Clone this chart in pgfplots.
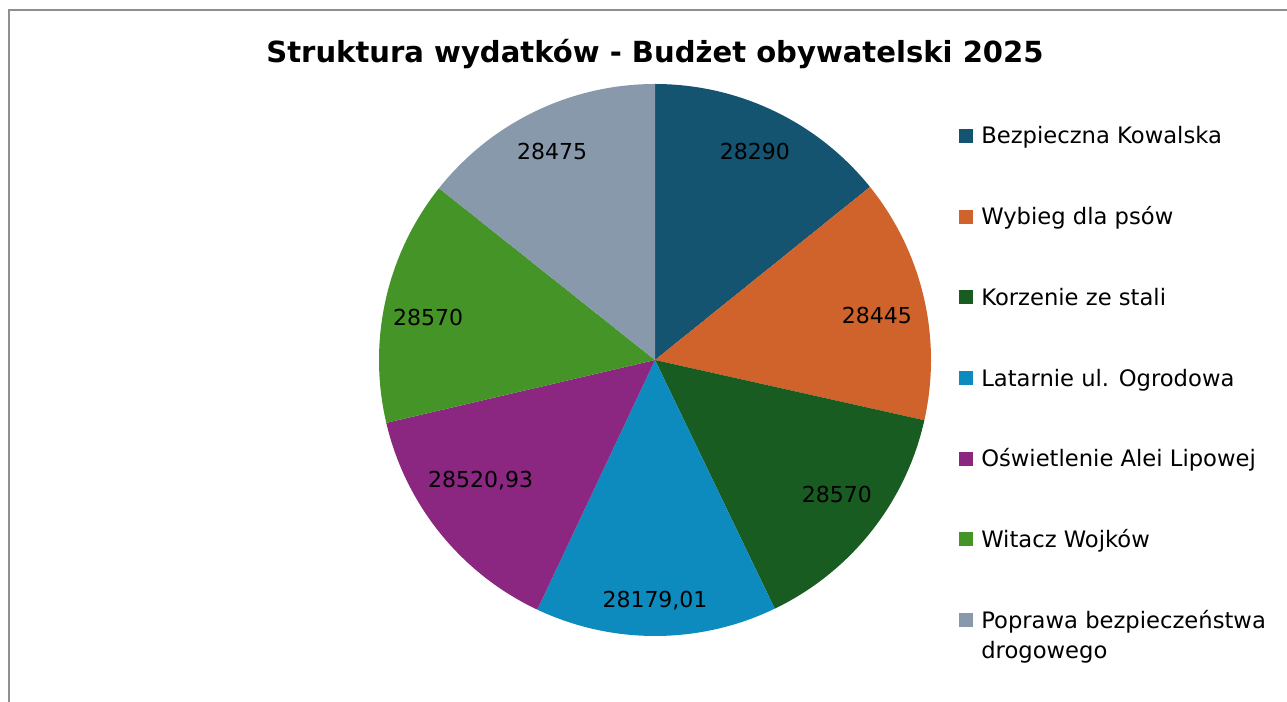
\documentclass[border=0pt]{standalone}
\usepackage{pgfplots}
\usepackage{pgfplotstable}
\pgfplotsset{compat=1.18}
\usepackage{fontspec}
\setmainfont{DejaVu Sans}

\definecolor{c0}{HTML}{145470}
\definecolor{c1}{HTML}{D0632B}
\definecolor{c2}{HTML}{195C22}
\definecolor{c3}{HTML}{0E8BBE}
\definecolor{c4}{HTML}{8B2681}
\definecolor{c5}{HTML}{459428}
\definecolor{c6}{HTML}{8799AB}
\definecolor{framegray}{HTML}{8F8F8F}

% value, label text, label position (in units of the radius)
\pgfplotstableread{
value     label      lx      ly
28290     28290      0.362   0.754
28445     28445      0.804   0.163
28570     28570      0.659  -0.489
28179.01  28179,01   0.000  -0.873
28520.93  28520,93  -0.632  -0.437
28570     28570     -0.822   0.154
28475     28475     -0.373   0.754
}\piedata

\begin{document}
\begin{tikzpicture}
\useasboundingbox (0pt,0pt) rectangle (965.25pt,526.5pt);
\begin{scope}[x=0.75pt,y=0.75pt]
% chart frame
\draw[framegray, line width=1.5pt] (9,-5) -- (9,692) -- (1295,692);
% title
\node[anchor=base, font=\fontsize{21.8}{26}\selectfont\bfseries] at (655,639) {Struktura wydatków - Budżet obywatelski 2025};
% legend
\foreach \k/\name in {0/Bezpieczna Kowalska, 1/Wybieg dla psów, 2/Korzenie ze stali, 3/Latarnie ul. Ogrodowa, 4/Oświetlenie Alei Lipowej, 5/Witacz Wojków, 6/Poprawa bezpieczeństwa}{
  \pgfmathsetmacro\yc{702-136-80.67*\k}
  \fill[c\k] (959,\yc-7) rectangle (973,\yc+7);
  \node[anchor=base west, inner sep=0pt, font=\fontsize{17}{20}\selectfont] at (981,\yc-8) {\name};
}
\node[anchor=base west, inner sep=0pt, font=\fontsize{17}{20}\selectfont] at (981,702-620-8-31) {drogowego};
\end{scope}

% total
\gdef\total{0}
\pgfplotsforeachungrouped \i in {0,...,6}{%
  \pgfplotstablegetelem{\i}{value}\of\piedata
  \xdef\total{\fpeval{\total+\pgfplotsretval}}%
}

\begin{axis}[
  hide axis, clip=false,
  x=207pt, y=207pt,
  xmin=-1, xmax=1, ymin=-1, ymax=1,
  anchor=center, at={(491.25pt,256.5pt)},
]
\def\cum{0}
\pgfplotsforeachungrouped \i in {0,...,6}{%
  \pgfplotstablegetelem{\i}{value}\of\piedata
  \edef\v{\pgfplotsretval}%
  \pgfplotstablegetelem{\i}{label}\of\piedata
  \edef\lab{\pgfplotsretval}%
  \pgfplotstablegetelem{\i}{lx}\of\piedata
  \edef\lx{\pgfplotsretval}%
  \pgfplotstablegetelem{\i}{ly}\of\piedata
  \edef\ly{\pgfplotsretval}%
  \edef\a{\fpeval{90-360*\cum/\total}}%
  \edef\cum{\fpeval{\cum+\v}}%
  \edef\b{\fpeval{90-360*\cum/\total}}%
  \edef\temp{\noexpand\addplot[draw=none, fill=c\i, domain=\b:\a, samples=80, variable=\noexpand\tt]
     ({cos(\noexpand\tt)},{sin(\noexpand\tt)}) -- (axis cs:0,0) -- cycle;
     \noexpand\node[inner sep=0pt, font=\noexpand\fontsize{16.5}{20}\noexpand\selectfont] at (axis cs:\lx,\ly) {\lab};}%
  \temp
}
\end{axis}
\end{tikzpicture}
\end{document}
